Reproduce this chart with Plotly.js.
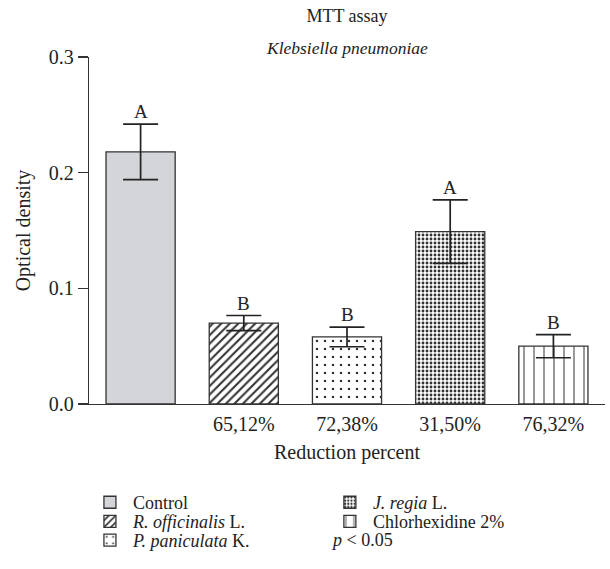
<!DOCTYPE html>
<html>
<head>
<meta charset="utf-8">
<script src="https://cdn.plot.ly/plotly-3.0.1.min.js"></script>
<style>html,body{margin:0;padding:0;background:#fff;}#chart{width:610px;height:569px;}</style>
</head>
<body>
<div id="chart"></div>
<script>
// Data
const groups = ["Control", "<i>R. officinalis</i> L.", "<i>P. paniculata</i> K.", "<i>J. regia</i> L.", "Chlorhexidine 2%"];
const reductionLabels = ["", "65,12%", "72,38%", "31,50%", "76,32%"];
const opticalDensity = [0.218, 0.070, 0.058, 0.149, 0.050];
const errorSD = [0.024, 0.0065, 0.0085, 0.0275, 0.010];
const letters = ["A", "B", "B", "A", "B"];

const FONT = "'Liberation Serif', 'Times New Roman', serif";
const DARK = "#333333";
const TXT = "#222222";

const patterns = [
  null,
  {shape: "/", size: 6, solidity: 0.35, fgcolor: DARK, bgcolor: "#ffffff"},
  {shape: ".", size: 8, solidity: 0.08, fgcolor: DARK, bgcolor: "#ffffff"},
  {shape: ".", size: 4, solidity: 0.4, fgcolor: DARK, bgcolor: "#ffffff"},
  {shape: "|", size: 10, solidity: 0.1, fgcolor: DARK, bgcolor: "#ffffff"}
];
const fills = ["#d4d5d9", "#ffffff", "#ffffff", "#ffffff", "#ffffff"];
const legendIds = ["legend", "legend2", "legend3", "legend4", "legend5"];

const traces = groups.map((g, i) => {
  const m = {color: fills[i], line: {color: DARK, width: 1.3}};
  if (patterns[i]) m.pattern = patterns[i];
  return {
    type: "bar",
    x: [i],
    y: [opticalDensity[i]],
    name: g,
    width: 0.67,
    legend: legendIds[i],
    marker: m,
    error_y: {type: "data", array: [errorSD[i]], visible: true, color: TXT, thickness: 1.7, width: 17.5},
    hoverinfo: "skip"
  };
});

const annotations = letters.map((t, i) => ({
  x: i, y: opticalDensity[i] + errorSD[i], xref: "x", yref: "y",
  text: t, showarrow: false, yanchor: "bottom", yshift: 0,
  font: {family: FONT, size: 19, color: TXT}
}));
annotations.push({
  xref: "paper", yref: "paper", x: 0.5, y: 1.025, yanchor: "middle",
  text: "<i>Klebsiella pneumoniae</i>", showarrow: false,
  font: {family: FONT, size: 17.5, color: TXT}
});
annotations.push({
  xref: "paper", yref: "paper", x: 0.465, y: -0.393, xanchor: "left", yanchor: "middle",
  text: "<i>p</i> &lt; 0.05", showarrow: false,
  font: {family: FONT, size: 18, color: TXT}
});

function leg(x, y) {
  return {x: x, y: y, xanchor: "left", yanchor: "middle", orientation: "v",
          font: {family: FONT, size: 18, color: TXT}, bgcolor: "rgba(0,0,0,0)", itemwidth: 36};
}

const layout = {
  width: 610, height: 569,
  margin: {l: 89, r: 5, t: 57, b: 165},
  paper_bgcolor: "#ffffff", plot_bgcolor: "#ffffff",
  font: {family: FONT, size: 18, color: TXT},
  title: {text: "MTT assay", x: 0.5, xref: "paper", y: 0.972, yanchor: "middle", font: {family: FONT, size: 18, color: TXT}},
  barmode: "overlay",
  showlegend: true,
  xaxis: {
    range: [-0.5, 4.5], tickvals: [0, 1, 2, 3, 4], ticktext: reductionLabels,
    showline: true, linecolor: DARK, linewidth: 1.3, ticks: "outside", ticklen: 2, tickcolor: "rgba(0,0,0,0)",
    showgrid: false, zeroline: false,
    tickfont: {family: FONT, size: 20, color: TXT},
    title: {text: "Reduction percent", standoff: 10, font: {family: FONT, size: 20, color: TXT}}
  },
  yaxis: {
    range: [0, 0.3], tickvals: [0, 0.1, 0.2, 0.3], tickformat: ".1f",
    showline: true, linecolor: DARK, linewidth: 1.3, ticks: "outside", ticklen: 10, tickwidth: 1.3, tickcolor: DARK,
    showgrid: false, zeroline: false,
    tickfont: {family: FONT, size: 20, color: TXT},
    title: {text: "Optical density", standoff: 12, font: {family: FONT, size: 20, color: TXT}}
  },
  legend: leg(-0.004, -0.284),
  legend2: leg(-0.004, -0.339),
  legend3: leg(-0.004, -0.393),
  legend4: leg(0.461, -0.284),
  legend5: leg(0.461, -0.339),
  annotations: annotations
};

Plotly.newPlot("chart", traces, layout, {displayModeBar: false, staticPlot: true});
</script>
</body>
</html>
